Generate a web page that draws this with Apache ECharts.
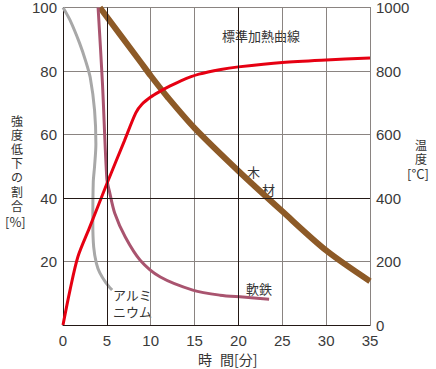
<!DOCTYPE html>
<html>
<head>
<meta charset="utf-8">
<script src="https://cdn.jsdelivr.net/npm/echarts@6/dist/echarts.min.js"></script>
<style>
html,body{margin:0;padding:0;background:#fff;}
#c{width:436px;height:369px;}
</style>
</head>
<body>
<div id="c"></div>
<script>
// x: time [min]; left y: strength reduction [%]; right y: temperature [°C]
const xTicks = [0, 5, 10, 15, 20, 25, 30, 35];
const leftTicks = [20, 40, 60, 80, 100];
const rightTicks = [0, 200, 400, 600, 800, 1000];

// 標準加熱曲線 (temperature, right axis)
const heatTime = [0, 0.8, 1.7, 3, 5, 7, 8.3, 9, 10, 11, 12, 13.5, 15.5, 18, 20, 25, 30, 35];
const heatTemp = [0, 110, 215, 305, 445, 580, 668, 695, 718, 735, 750, 770, 790, 805, 813, 827, 835, 841];

// 木材
const woodTime = [4.2, 8.8, 10, 12, 15, 20, 25, 30, 35];
const woodVal = [100, 83, 78.5, 71.5, 62, 48.5, 35.8, 23.5, 13.8];

// アルミニウム
const aluTime = [0, 0.8, 1.9, 2.6, 3.1, 3.6, 3.75, 3.6, 3.45, 3.4, 3.5, 3.8, 4.2, 4.9, 5.6];
const aluVal = [100, 96, 88.7, 83, 78, 67.6, 57, 50, 45, 32, 24.5, 19.5, 16.4, 13.3, 11];

// 軟鉄
const ironTime = [4.0, 4.5, 5.0, 5.3, 5.9, 7.1, 8.8, 11.1, 14.8, 17.9, 20.5, 23.5];
const ironVal = [100, 76, 46, 42, 35.2, 27.7, 20.4, 15.1, 11, 9.4, 8.8, 8.1];

// emphasised grid lines
const darkX = [5, 20];
const darkY = [40];

const zip = (a, b) => a.map((v, i) => [v, b[i]]);
const JP = '"Noto Sans CJK JP", sans-serif';
const NUM = '"Liberation Sans", "Noto Sans", sans-serif';
const GRAY = '#8a8481';
const DARK = '#231815';
const TXT = '#3a3a3a';
const jt = (text, left, top, size, lh) => ({
  type: 'text', left, top,
  style: {text, fontSize: size, fontFamily: JP, fill: '#333', lineHeight: lh || Math.round(size * 1.3)}
});

const chart = echarts.init(document.getElementById('c'), null, {renderer: 'svg'});
chart.setOption({
  animation: false,
  grid: {left: 63, right: 66, top: 7, bottom: 44, containLabel: false},
  xAxis: {
    type: 'value', min: 0, max: 35, interval: 5,
    axisLine: {lineStyle: {color: DARK, width: 1}},
    axisTick: {show: false},
    splitLine: {show: true, lineStyle: {color: GRAY, width: 1}},
    axisLabel: {color: TXT, fontSize: 15, fontFamily: NUM, margin: 8,
      formatter: v => xTicks.includes(v) ? String(v) : ''}
  },
  yAxis: [{
    type: 'value', min: 0, max: 100, interval: 20,
    axisLine: {show: true, lineStyle: {color: DARK, width: 1}},
    axisTick: {show: false},
    splitLine: {show: true, lineStyle: {color: GRAY, width: 1}},
    axisLabel: {color: TXT, fontSize: 15, fontFamily: NUM, margin: 6,
      formatter: v => leftTicks.includes(v) ? String(v) : ''}
  }, {
    type: 'value', min: 0, max: 1000, interval: 200, position: 'right',
    axisLine: {show: true, lineStyle: {color: GRAY, width: 1}},
    axisTick: {show: false},
    splitLine: {show: false},
    axisLabel: {color: TXT, fontSize: 15, fontFamily: NUM, margin: 6,
      formatter: v => rightTicks.includes(v) ? String(v) : ''}
  }],
  series: [
    {
      type: 'line', name: 'grid', data: [], silent: true,
      markLine: {
        silent: true, symbol: 'none', label: {show: false},
        lineStyle: {color: DARK, width: 1, type: 'solid'},
        data: darkX.map(v => ({xAxis: v})).concat(darkY.map(v => ({yAxis: v})))
      }
    },
    {
      type: 'line', name: '木材', data: zip(woodTime, woodVal), yAxisIndex: 0,
      showSymbol: false, smooth: 0.3,
      lineStyle: {color: '#8d5a27', width: 6, cap: 'butt'}
    },
    {
      type: 'line', name: 'アルミニウム', data: zip(aluTime, aluVal), yAxisIndex: 0,
      showSymbol: false, smooth: 0.3,
      lineStyle: {color: '#a8a8a8', width: 3}
    },
    {
      type: 'line', name: '軟鉄', data: zip(ironTime, ironVal), yAxisIndex: 0,
      showSymbol: false, smooth: 0.3,
      lineStyle: {color: '#a9546f', width: 3}
    },
    {
      type: 'line', name: '標準加熱曲線', data: zip(heatTime, heatTemp), yAxisIndex: 1,
      showSymbol: false, smooth: 0.3,
      lineStyle: {color: '#e60012', width: 3}
    }
  ],
  graphic: [
    jt('標準加熱曲線', 222, 27, 13),
    jt('木', 247, 163, 13),
    jt('材', 262, 181, 13),
    jt('軟鉄', 246, 280, 13),
    jt('アルミ\nニウム', 113, 286, 13, 17),
    jt('強\n度\n低\n下\nの\n割\n合', 11, 113, 12, 14.2),
    jt('[%]', 5, 214, 13, 14),
    jt('温\n度', 415, 137, 12, 14),
    jt('[°C]', 407, 166, 13, 14),
    jt('時', 198, 350, 14),
    jt('間[分]', 220, 350, 14)
  ]
});
</script>
</body>
</html>
